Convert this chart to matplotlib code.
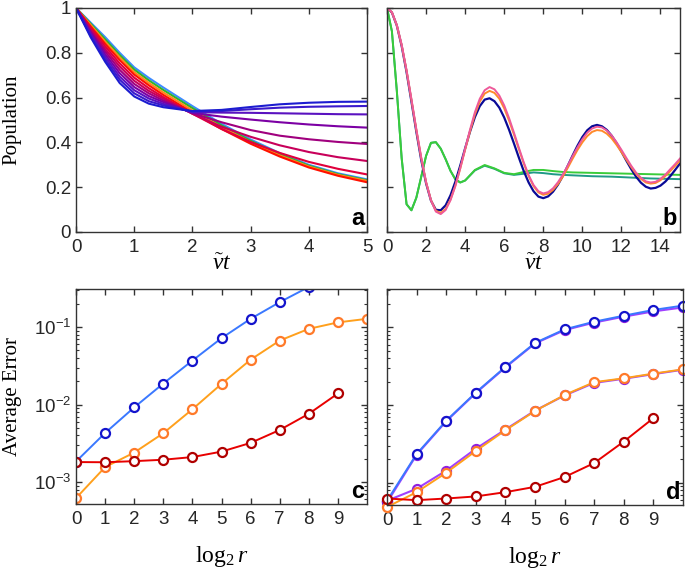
import numpy as np
import matplotlib
matplotlib.use('Agg')
import matplotlib.pyplot as plt
from matplotlib.ticker import FixedLocator, LogLocator, FuncFormatter, NullFormatter

plt.rcParams['font.family'] = ['Liberation Sans']
plt.rcParams['mathtext.fontset'] = 'custom'
plt.rcParams['mathtext.rm'] = 'Liberation Serif'
plt.rcParams['mathtext.it'] = 'Liberation Serif:italic'
plt.rcParams['mathtext.sf'] = 'Liberation Sans'

# ---------- panel a : population vs t (0..5)
t_a = [0, 0.25, 0.5, 0.75, 1, 1.25, 1.5, 2, 2.5, 3, 3.5, 4, 4.5, 5]
pop_lightblue = [1, 0.935, 0.87, 0.80, 0.735, 0.688, 0.645, 0.562, 0.483, 0.413, 0.352, 0.300, 0.262, 0.235]
pop_green = [1, 0.93, 0.86, 0.79, 0.725, 0.677, 0.634, 0.553, 0.476, 0.407, 0.347, 0.296, 0.258, 0.231]
pop_orange = [1, 0.925, 0.85, 0.78, 0.714, 0.666, 0.623, 0.543, 0.468, 0.401, 0.342, 0.292, 0.255, 0.228]
pop_family = [
    [1, 0.918, 0.840, 0.768, 0.703, 0.655, 0.612, 0.533, 0.460, 0.394, 0.337, 0.288, 0.251, 0.222],
    [1, 0.911, 0.829, 0.753, 0.689, 0.642, 0.602, 0.528, 0.460, 0.402, 0.353, 0.313, 0.282, 0.257],
    [1, 0.904, 0.817, 0.739, 0.675, 0.630, 0.595, 0.528, 0.470, 0.425, 0.387, 0.357, 0.334, 0.317],
    [1, 0.897, 0.806, 0.724, 0.661, 0.619, 0.587, 0.530, 0.490, 0.455, 0.430, 0.414, 0.402, 0.393],
    [1, 0.891, 0.794, 0.709, 0.647, 0.607, 0.580, 0.532, 0.515, 0.502, 0.490, 0.480, 0.472, 0.466],
    [1, 0.884, 0.783, 0.694, 0.633, 0.596, 0.572, 0.535, 0.533, 0.532, 0.530, 0.528, 0.526, 0.525],
    [1, 0.877, 0.771, 0.680, 0.619, 0.584, 0.565, 0.538, 0.540, 0.548, 0.555, 0.559, 0.561, 0.5625],
    [1, 0.870, 0.760, 0.665, 0.605, 0.573, 0.557, 0.540, 0.545, 0.558, 0.570, 0.577, 0.581, 0.582],
]
family_colors = ['#ff1000', '#e0003c', '#c8005a', '#a0007e', '#7c00a4', '#5a12c0', '#3a1acc', '#1c1cd0']

# ---------- panel b : population vs t (0..15)
t_b = np.arange(0, 15.01, 0.25)
pop_navy = [1.0, 0.980, 0.922, 0.830, 0.714, 0.582, 0.448, 0.322, 0.217, 0.140, 0.099, 0.097, 0.119,
            0.164, 0.225, 0.297, 0.374, 0.448, 0.513, 0.562, 0.591, 0.597, 0.584, 0.555, 0.511, 0.456,
            0.395, 0.332, 0.272, 0.221, 0.182, 0.158, 0.151, 0.159, 0.180, 0.211, 0.250, 0.295, 0.341,
            0.385, 0.424, 0.454, 0.472, 0.478, 0.472, 0.456, 0.430, 0.397, 0.359, 0.319, 0.281, 0.247,
            0.220, 0.202, 0.194, 0.197, 0.207, 0.225, 0.249, 0.277, 0.306]
pop_pink = [1.0, 0.981, 0.924, 0.836, 0.722, 0.593, 0.459, 0.333, 0.223, 0.141, 0.091, 0.080, 0.098,
            0.142, 0.206, 0.285, 0.372, 0.457, 0.535, 0.595, 0.633, 0.647, 0.637, 0.609, 0.565, 0.508,
            0.443, 0.376, 0.311, 0.254, 0.210, 0.182, 0.172, 0.178, 0.195, 0.222, 0.256, 0.296, 0.338,
            0.378, 0.414, 0.443, 0.462, 0.470, 0.467, 0.453, 0.431, 0.401, 0.367, 0.331, 0.296, 0.265,
            0.242, 0.226, 0.221, 0.224, 0.237, 0.256, 0.280, 0.303, 0.328]
pop_orange_b = [1.0, 0.981, 0.923, 0.834, 0.720, 0.590, 0.456, 0.331, 0.222, 0.142, 0.095, 0.085, 0.103,
                0.145, 0.207, 0.284, 0.368, 0.450, 0.525, 0.582, 0.618, 0.630, 0.621, 0.595, 0.552, 0.497,
                0.435, 0.370, 0.306, 0.250, 0.205, 0.177, 0.166, 0.171, 0.188, 0.214, 0.247, 0.286, 0.327,
                0.366, 0.400, 0.428, 0.447, 0.455, 0.452, 0.439, 0.418, 0.389, 0.357, 0.323, 0.290, 0.260,
                0.237, 0.221, 0.216, 0.219, 0.231, 0.250, 0.272, 0.295, 0.318]
t_g = list(np.arange(0, 4.01, 0.25)) + list(np.arange(4.5, 15.01, 0.5))
pop_green_b = [1.0, 0.896, 0.632, 0.329, 0.124, 0.097, 0.153, 0.246, 0.340, 0.398, 0.401, 0.372, 0.325, 0.273,
               0.235, 0.221, 0.230, 0.277, 0.299, 0.284, 0.264, 0.258, 0.268, 0.277, 0.277, 0.272, 0.268, 0.266,
               0.265, 0.264, 0.263, 0.262, 0.261, 0.260, 0.259, 0.258, 0.257, 0.256, 0.255]
pop_teal_b = [1.0, 0.896, 0.632, 0.329, 0.124, 0.097, 0.153, 0.246, 0.340, 0.398, 0.401, 0.372, 0.325, 0.273,
              0.235, 0.221, 0.230, 0.275, 0.296, 0.282, 0.262, 0.255, 0.260, 0.266, 0.263, 0.258, 0.255, 0.253,
              0.251, 0.249, 0.248, 0.247, 0.245, 0.243, 0.241, 0.239, 0.238, 0.237, 0.236]

# ---------- panels c, d : average error vs log2 r
c_blue = [1.84e-3, 4.3e-3, 9.2e-3, 1.87e-2, 3.7e-2, 7.2e-2, 1.28e-1, 2.1e-1, 3.3e-1]
c_orange = [6.2e-4, 1.56e-3, 2.4e-3, 4.27e-3, 8.7e-3, 1.85e-2, 3.8e-2, 6.7e-2, 9.5e-2, 1.15e-1, 1.28e-1]
c_red = [1.81e-3, 1.8e-3, 1.86e-3, 1.94e-3, 2.1e-3, 2.47e-3, 3.2e-3, 4.7e-3, 7.6e-3, 1.39e-2]

d_purple_hi = [5.6e-4, 2.3e-3, 6.2e-3, 1.43e-2, 3.05e-2, 6.2e-2, 9.2e-2, 1.15e-1, 1.37e-1, 1.6e-1, 1.8e-1]
d_blue = [5.9e-4, 2.35e-3, 6.3e-3, 1.45e-2, 3.1e-2, 6.3e-2, 9.4e-2, 1.18e-1, 1.41e-1, 1.67e-1, 1.9e-1]
d_purple_lo = [5.9e-4, 8.4e-4, 1.44e-3, 2.75e-3, 4.85e-3, 8.5e-3, 1.33e-2, 1.93e-2, 2.18e-2, 2.5e-2, 2.85e-2]
d_orange = [4.9e-4, 7.6e-4, 1.35e-3, 2.57e-3, 4.75e-3, 8.4e-3, 1.35e-2, 1.97e-2, 2.21e-2, 2.54e-2, 2.88e-2]
d_red = [6.3e-4, 6.0e-4, 6.3e-4, 6.7e-4, 7.6e-4, 8.9e-4, 1.19e-3, 1.8e-3, 3.4e-3, 6.8e-3]

axcol = '#333333'
tick_fs = 13.5


def style(ax):
    for s in ax.spines.values():
        s.set_color(axcol)
        s.set_linewidth(1.0)
    ax.tick_params(which='both', direction='in', top=True, right=True, colors=axcol,
                   labelsize=tick_fs, labelcolor='#262626')
    ax.tick_params(which='major', length=4.5, width=1.0)
    ax.tick_params(which='minor', length=2.5, width=0.8)
    ax.tick_params(axis='x', pad=5)


def panel_letter(ax, s):
    ax.text(0.99, 0.03, s, transform=ax.transAxes, ha='right', va='baseline',
            fontsize=17, fontweight='bold')


fig = plt.figure(figsize=(6.85, 5.71), dpi=100)
ax_a = fig.add_axes([0.111, 0.5937, 0.4248, 0.3923])
ax_b = fig.add_axes([0.565, 0.5937, 0.4277, 0.3923])
ax_c = fig.add_axes([0.111, 0.1173, 0.4248, 0.3765])
ax_d = fig.add_axes([0.565, 0.1156, 0.4321, 0.3782])

# panel a
ax_a.plot(t_a, pop_lightblue, color='#3d8bff', lw=1.5)
ax_a.plot(t_a, pop_green, color='#2db52d', lw=1.5)
ax_a.plot(t_a, pop_orange, color='#ff8a1a', lw=1.5)
for vals, col in zip(pop_family, family_colors):
    ax_a.plot(t_a, vals, color=col, lw=1.5)
ax_a.set_xlim(0, 5)
ax_a.set_ylim(0, 1)
ax_a.set_xticks(range(0, 6))
ax_a.set_yticks([0, 0.2, 0.4, 0.6, 0.8, 1])
ax_a.set_yticklabels(['0', '0.2', '0.4', '0.6', '0.8', '1'])
style(ax_a)
ax_a.set_xlabel(r'$\tilde{\nu}t$', fontsize=17)
ax_a.xaxis.set_label_coords(0.5, -0.095)
ax_a.xaxis.label.set_va('top')
panel_letter(ax_a, 'a')

# panel b
ax_b.plot(t_g, pop_teal_b, color='#1f9a86', lw=1.4)
ax_b.plot(t_g, pop_green_b, color='#3acc3a', lw=1.4)
ax_b.plot(t_b, pop_navy, color='#0a0a96', lw=1.6)
ax_b.plot(t_b, pop_orange_b, color='#ff8a2a', lw=1.4)
ax_b.plot(t_b, pop_pink, color='#ee5a9a', lw=1.4)
ax_b.set_xlim(0, 15)
ax_b.set_ylim(0, 1)
ax_b.set_xticks(range(0, 15, 2))
ax_b.set_yticks([0, 0.2, 0.4, 0.6, 0.8, 1])
ax_b.set_yticklabels([])
style(ax_b)
ax_b.set_xlabel(r'$\tilde{\nu}t$', fontsize=17)
ax_b.xaxis.set_label_coords(0.5, -0.095)
ax_b.xaxis.label.set_va('top')
panel_letter(ax_b, 'b')

ms = 6.5
mew = 1.6
r_vals = np.arange(11)

# panel c
ax_c.plot(r_vals[:len(c_blue)], c_blue, '-o', color='#3a78ff', lw=1.4, ms=ms, mew=mew,
          mec='#1414cc', mfc='white')
ax_c.plot(r_vals[:len(c_orange)], c_orange, '-o', color='#ffa01c', lw=1.4, ms=ms, mew=mew,
          mec='#ff7a2a', mfc='white')
ax_c.plot(r_vals[:len(c_red)], c_red, '-o', color='#e80000', lw=1.4, ms=ms, mew=mew,
          mec='#b00000', mfc='white')

# panel d
ax_d.plot(r_vals, d_purple_hi, '-o', color='#a040ff', lw=1.5, ms=ms, mew=mew, mec='#9020e0',
          mfc='white', clip_on=False)
ax_d.plot(r_vals, d_blue, '-o', color='#3a78ff', lw=1.4, ms=ms, mew=mew, mec='#1414cc',
          mfc='white', clip_on=False)
ax_d.plot(r_vals, d_purple_lo, '-o', color='#a040ff', lw=1.5, ms=ms, mew=mew, mec='#9020e0',
          mfc='white', clip_on=False)
ax_d.plot(r_vals, d_orange, '-o', color='#ffa01c', lw=1.4, ms=ms, mew=mew, mec='#ff7a2a',
          mfc='white', clip_on=False)
ax_d.plot(r_vals[:len(d_red)], d_red, '-o', color='#e80000', lw=1.4, ms=ms, mew=mew, mec='#b00000',
          mfc='white', clip_on=False)

for ax in (ax_c, ax_d):
    ax.set_yscale('log')
    ax.set_xlim(0, 10)
    ax.set_ylim(5.2e-4, 0.31)
    ax.set_xticks(range(0, 10))
    ax.yaxis.set_major_locator(FixedLocator([1e-3, 1e-2, 1e-1]))
    ax.yaxis.set_minor_locator(LogLocator(base=10, subs=np.arange(2, 10)))
    ax.yaxis.set_minor_formatter(NullFormatter())
    style(ax)
    ax.set_xlabel(r'$\log_2 r$', fontsize=17)
    ax.xaxis.set_label_coords(0.5, -0.185)
    ax.xaxis.label.set_va('top')

ax_c.yaxis.set_major_formatter(FuncFormatter(lambda v, p: r'$\mathsf{10^{%d}}$' % int(round(np.log10(v)))))
ax_d.yaxis.set_major_formatter(NullFormatter())
panel_letter(ax_c, 'c')
panel_letter(ax_d, 'd')

# y labels (serif, like the original)
fig.text(0.004, 0.5937 + 0.3923 / 2, 'Population', rotation=90, ha='left', va='center',
         family='Liberation Serif', fontsize=15)
fig.text(0.004, 0.1173 + 0.3765 / 2, 'Average Error', rotation=90, ha='left', va='center',
         family='Liberation Serif', fontsize=15)

fig.savefig('out.png', dpi=100)
